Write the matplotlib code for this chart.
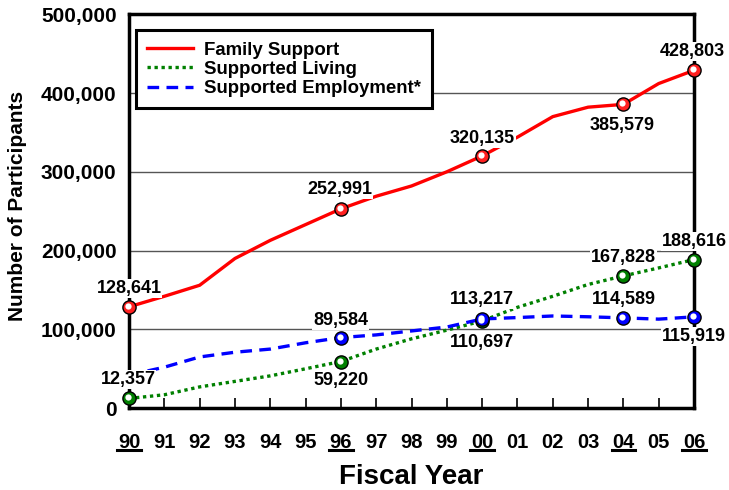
import matplotlib.pyplot as plt
import matplotlib.transforms as mtransforms

plt.rcParams['font.family'] = ['Liberation Sans', 'DejaVu Sans']
plt.rcParams['font.weight'] = 'bold'

years = list(range(17))
year_labels = ['90', '91', '92', '93', '94', '95', '96', '97', '98', '99',
               '00', '01', '02', '03', '04', '05', '06']
underlined = [0, 6, 10, 14, 16]

family = [128641, 142000, 156000, 190000, 213000, 233000, 252991, 269000, 282000,
          300000, 320135, 344000, 370000, 382000, 385579, 412000, 428803]
living = [12357, 17000, 27000, 34000, 41000, 50000, 59220, 75000, 88000,
          99000, 110697, 128000, 142000, 157000, 167828, 178000, 188616]
employ = [42000, 52000, 65000, 71000, 75000, 83000, 89584, 93000, 98000,
          103000, 113217, 115000, 117000, 116000, 114589, 113000, 115919]

# (series, index, label, dx px, dy px)
labels = [
    (family, 0, '128,641', 0, 18), (family, 6, '252,991', -1, 19),
    (family, 10, '320,135', 0, 17), (family, 14, '385,579', -1, -21),
    (family, 16, '428,803', -2, 19),
    (living, 0, '12,357', -1, 19), (living, 6, '59,220', 0, -19),
    (living, 10, '110,697', 0, -22), (living, 14, '167,828', 0, 18),
    (living, 16, '188,616', 0, 18),
    (employ, 6, '89,584', 0, 17), (employ, 10, '113,217', 0, 19),
    (employ, 14, '114,589', 0, 18), (employ, 16, '115,919', 0, -20),
]

fig = plt.figure(figsize=(7.29, 4.90), dpi=100)
ax = fig.add_axes([0.177, 0.167, 0.775, 0.804])

ax.plot(years, family, color='#ff0000', lw=2.4, label='Family Support', zorder=3)
ax.plot(years, living, color='#008000', lw=2.4, ls=(0, (1, 1.1)), label='Supported Living', zorder=3)
ax.plot(years, employ, color='#0000ff', lw=2.4, ls=(0, (3.5, 2.2)), label='Supported Employment*', zorder=3)

marks = [(family, '#ff2020', [0, 6, 10, 14, 16]),
         (living, '#008000', [0, 6, 10, 14, 16]),
         (employ, '#0000ff', [6, 10, 14, 16])]
for series, col, idx in marks:
    xs = [years[i] for i in idx]
    ys = [series[i] for i in idx]
    ax.plot(xs, ys, 'o', ms=9.5, mfc=col, mec='black', mew=1, zorder=5, clip_on=False)
    hl = mtransforms.offset_copy(ax.transData, fig=fig, x=-1, y=1, units='dots')
    ax.plot(xs, ys, 'o', ms=4.5, mfc='white', mec='none', zorder=6, clip_on=False, transform=hl)

for series, i, txt, dx, dy in labels:
    ax.annotate(txt, (years[i], series[i]), xytext=(dx, dy), textcoords='offset pixels',
                ha='center', va='center', fontsize=13, fontweight='bold', zorder=7,
                bbox=dict(boxstyle='square,pad=0.05', fc='white', ec='none'),
                annotation_clip=False)

ax.set_xlim(0, 16)
ax.set_ylim(0, 500000)
ax.set_yticks([0, 100000, 200000, 300000, 400000, 500000])
ax.set_yticklabels(['0', '100,000', '200,000', '300,000', '400,000', '500,000'],
                   fontsize=15, fontweight='bold')
ax.set_xticks(years)
ax.set_xticklabels(year_labels, fontsize=14.5, fontweight='bold')
ax.tick_params(axis='x', direction='in', length=7, width=1.2, pad=18)
ax.tick_params(axis='y', length=0, pad=9)
ax.grid(axis='y', color='#555555', lw=1)
for s in ax.spines.values():
    s.set_linewidth(2.5)

tr = mtransforms.blended_transform_factory(ax.transData, ax.transAxes)
for i in underlined:
    ax.plot([i - 0.33, i + 0.33], [-0.105, -0.105], color='black', lw=2.2,
            transform=tr, clip_on=False)

ax.set_ylabel('Number of Participants', fontsize=15, fontweight='bold')
ax.yaxis.label.set_va('center')
ax.yaxis.set_label_coords(-0.198, 0.513)
fig.text(0.5645, 0.012, 'Fiscal Year', ha='center', va='baseline',
         fontsize=20, fontweight='bold')

leg = ax.legend(loc='upper left', bbox_to_anchor=(0.0124, 0.959),
                prop={'weight': 'bold', 'size': 13.4}, handlelength=2.45,
                handletextpad=0.6, fancybox=False, framealpha=1, edgecolor='black',
                borderpad=0.6, labelspacing=0.12, borderaxespad=0)
leg.get_frame().set_linewidth(2.2)
leg.set_zorder(8)

fig.savefig('out.png', dpi=100)
